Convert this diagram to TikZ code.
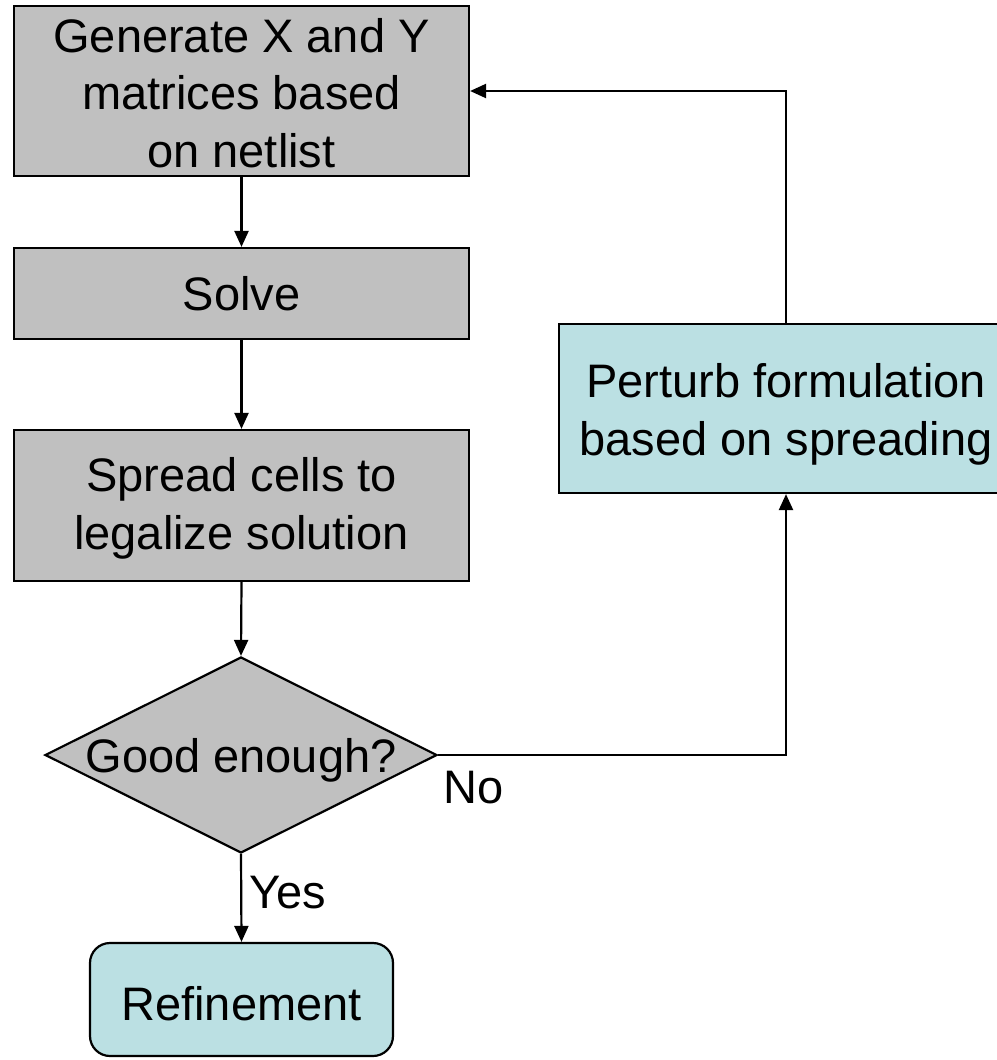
\documentclass[tikz,border=0pt]{standalone}
\usepackage{fontspec}
\setmainfont{Liberation Sans}
\usetikzlibrary{arrows.meta,shapes.geometric}
\definecolor{boxgray}{HTML}{C0C0C0}
\definecolor{boxteal}{HTML}{BBE0E3}
\begin{document}
\begin{tikzpicture}[x=1pt,y=-1pt,
  every node/.style={font=\fontsize{47}{57.5}\selectfont},
  procbox/.style={draw=black,line width=2.2pt,fill=boxgray,minimum width=455pt,
    inner sep=0pt,align=center},
  tealbox/.style={draw=black,line width=2.2pt,fill=boxteal,inner sep=0pt,align=center},
  decision/.style={diamond,draw=black,line width=2.2pt,fill=boxgray,
    minimum width=392pt,minimum height=196pt,inner sep=0pt},
  flow/.style={line width=2.2pt,-{Triangle[length=16pt,width=14pt]}},
  tag/.style={anchor=base west,inner sep=0pt}]
\useasboundingbox (0,0) rectangle (996,1060);
% process column
\node[procbox,minimum height=170pt,text height=152pt,text depth=0pt] (gen) at (241.5,91)
  {Generate X and Y\\matrices based\\on netlist};
\node[procbox,minimum height=91pt] (solve) at (241.5,293.5) {Solve};
\node[procbox,minimum height=151pt,text height=97.5pt,text depth=10pt] (spread)
  at (241.5,505.5) {Spread cells to\\legalize solution};
\node[decision] (good) at (241,755) {};
\node[anchor=base,inner sep=0pt] (goodtxt) at (241,772) {Good enough?};
\node[tealbox,rounded corners=20pt,minimum width=303pt,minimum height=113pt,
  text height=41pt,text depth=0pt] (refine) at (241.5,999.5) {Refinement};
% feedback box on the right
\node[tealbox,minimum width=454pt,minimum height=169pt,text height=103.5pt,
  text depth=10pt] (perturb) at (786,408.5) {Perturb formulation\\based on spreading};
% connectors
\draw[flow] (gen.south) -- (solve.north);
\draw[flow] (solve.south) -- (spread.north);
\draw[flow] (spread.south) -- (good.north);
\draw[flow] (good.south) -- (refine.north);
\draw[flow] (good.east) -| (perturb.south);
\draw[flow] (perturb.north) |- (gen.east);
% branch labels
\node[tag] (nolbl) at (443,803) {No};
\node[tag] (yeslbl) at (249,908) {Yes};
\end{tikzpicture}
\end{document}
